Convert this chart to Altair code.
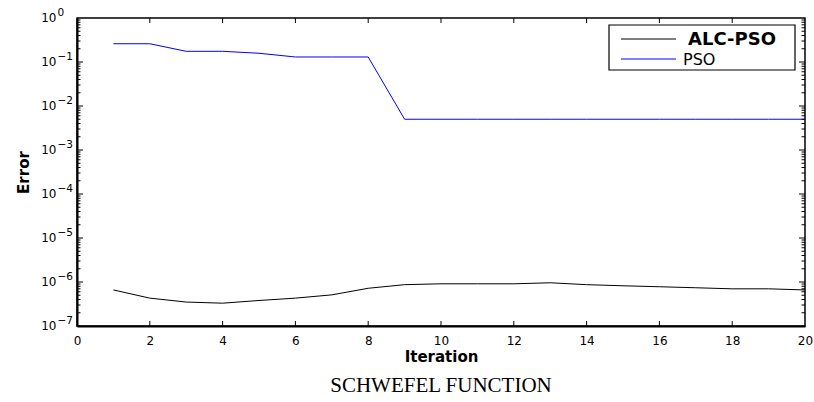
import altair as alt
import pandas as pd

# ---- data ----
iterations = [1, 2, 3, 4, 5, 6, 7, 8, 9, 10, 11, 12, 13, 14, 15, 16, 17, 18, 19, 20]
alc_pso = [6.6e-7, 4.3e-7, 3.5e-7, 3.3e-7, 3.8e-7, 4.3e-7, 5.1e-7, 7.2e-7, 8.7e-7, 9.1e-7,
           9.1e-7, 9.1e-7, 9.6e-7, 8.7e-7, 8.2e-7, 7.8e-7, 7.4e-7, 7.0e-7, 7.0e-7, 6.6e-7]
pso = [0.26, 0.26, 0.175, 0.175, 0.158, 0.13, 0.13, 0.13, 0.005, 0.005,
       0.005, 0.005, 0.005, 0.005, 0.005, 0.005, 0.005, 0.005, 0.005, 0.005]
series_names = ["ALC-PSO", "PSO"]
series_colors = ["#000000", "#0000ff"]
x_ticks = [0, 2, 4, 6, 8, 10, 12, 14, 16, 18, 20]
y_major = [1e-7, 1e-6, 1e-5, 1e-4, 1e-3, 1e-2, 1e-1, 1]
minor_mult = [2, 3, 4, 5, 6, 7, 8, 9]
y_minor = [m * v for v in y_major[:-1] for m in minor_mult]

df = pd.DataFrame({
    "Iteration": iterations * 2,
    "Error": alc_pso + pso,
    "Series": [series_names[0]] * len(iterations) + [series_names[1]] * len(iterations),
})
x_tick_df = pd.DataFrame({"t": x_ticks[1:-1]})
y_major_df = pd.DataFrame({"t": y_major[1:-1]})
y_minor_df = pd.DataFrame({"t": y_minor})

W, H = 728, 308
FONT = "DejaVu Sans"
EXP_EXPR = "format(round(log(datum.value)/LN10), 'd')"

x_scale = alt.Scale(domain=[0, 20], nice=False)
y_scale = alt.Scale(type="log", domain=[1e-7, 1], nice=False)
color_scale = alt.Scale(domain=series_names, range=series_colors)

x_bottom = alt.Axis(orient="bottom", values=x_ticks, labelFlush=False, labelFontSize=12,
                    ticks=False, labelPadding=9, title="Iteration", titleFontSize=15,
                    titleFontWeight="bold", titlePadding=3, domainColor="black",
                    domainWidth=2, grid=False, labelFont=FONT, labelColor="black",
                    titleFont=FONT, titleColor="black")
# base "10" of each power-of-ten label
y_left = alt.Axis(orient="left", values=y_major, labelExpr="'10'", labelFontSize=12,
                  ticks=False, labelPadding=21, labelOffset=-1, labelFlush=False,
                  title="Error", titleFontSize=15, titleFontWeight="bold", titlePadding=9,
                  domainColor="black", domainWidth=2, grid=False, labelFont=FONT,
                  labelColor="black", titleFont=FONT, titleColor="black")
# raised exponent of each label
y_exp = alt.Axis(orient="left", values=y_major, labelExpr=EXP_EXPR, labelFontSize=10.5,
                 labelAlign="left", labelBaseline="middle", labelPadding=20,
                 labelOffset=-6, labelFlush=False, ticks=False, domain=False, grid=False,
                 title=None, labelFont=FONT, labelColor="black")

lines = alt.Chart(df).mark_line(strokeWidth=1).encode(
    x=alt.X("Iteration:Q", scale=x_scale, axis=x_bottom),
    y=alt.Y("Error:Q", scale=y_scale, axis=y_left),
    color=alt.Color("Series:N", scale=color_scale, legend=None),
)

exponents = alt.Chart(df).mark_line(opacity=0).encode(
    x=alt.X("Iteration:Q", scale=x_scale, axis=None),
    y=alt.Y("Error:Q", scale=y_scale, axis=y_exp),
    detail="Series:N",
)

def xticks(y0, y1):
    return alt.Chart(x_tick_df).mark_rule(color="black", strokeWidth=1).encode(
        x=alt.X("t:Q", scale=x_scale, axis=None), y=alt.value(y0), y2=alt.value(y1))

def yticks(data, x0, x1):
    return alt.Chart(data).mark_rule(color="black", strokeWidth=1).encode(
        y=alt.Y("t:Q", scale=y_scale, axis=None), x=alt.value(x0), x2=alt.value(x1))

ticks = [
    xticks(H, H - 5), xticks(0, 5),
    yticks(y_major_df, 0, 6), yticks(y_minor_df, 0, 3.5),
    yticks(y_major_df, W, W - 6), yticks(y_minor_df, W, W - 3.5),
]

# ---- legend box (drawn as layers, colours from the shared colour scale) ----
legend_box = alt.Chart(pd.DataFrame({"box": [0]})).mark_rect(
    fill="white", stroke="black", strokeWidth=1.2
).encode(x=alt.value(532), x2=alt.value(718), y=alt.value(7), y2=alt.value(52))

legend_rows = []
label_x = [611, 606]
label_size = [18, 16]
label_weight = ["bold", "normal"]
for i, name in enumerate(series_names):
    row = pd.DataFrame({"Series": [name]})
    yc = 21 + 20 * i
    legend_rows.append(
        alt.Chart(row).mark_rule(strokeWidth=1).encode(
            x=alt.value(544), x2=alt.value(599), y=alt.value(yc),
            color=alt.Color("Series:N", scale=color_scale, legend=None))
    )
    legend_rows.append(
        alt.Chart(row).mark_text(align="left", baseline="middle", font=FONT,
                                 fontSize=label_size[i], fontWeight=label_weight[i],
                                 color="black").encode(
            x=alt.value(label_x[i]), y=alt.value(yc + 1), text="Series:N")
    )

chart = alt.layer(lines, exponents, *ticks, legend_box, *legend_rows).resolve_axis(
    x="independent", y="independent"
).properties(
    width=W, height=H,
    autosize=alt.AutoSizeParams(type="none"),
    padding={"left": 77, "top": 18, "right": 9, "bottom": 76},
    title=alt.TitleParams("SCHWEFEL FUNCTION", orient="bottom", anchor="middle",
                          font="Liberation Serif", fontSize=21, fontWeight="normal",
                          color="black", offset=11),
    background="white",
).configure_view(stroke="black", strokeWidth=1.5)

chart.save("out.html", embed_options={"renderer": "svg", "actions": False})
